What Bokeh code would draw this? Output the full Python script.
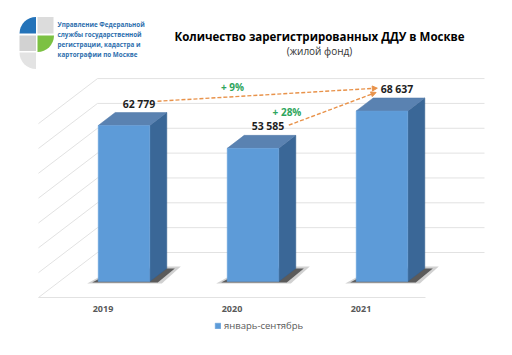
import numpy as np
from bokeh.plotting import figure
from bokeh.models import Range1d, Legend, LegendItem, Arrow, NormalHead
from bokeh.core.properties import value
from bokeh.embed import file_html
from bokeh.resources import INLINE

# ---------------- data ----------------
years = ["2019", "2020", "2021"]
counts = [62779, 53585, 68637]
grid_values = [0, 10000, 20000, 30000, 40000, 50000, 60000, 70000]
series_name = "январь-сентябрь"
title_text = "Количество зарегистрированных ДДУ в Москве"
subtitle_text = "(жилой фонд)"
org_lines = ["Управление Федеральной", "службы государственной",
             "регистрации, кадастра и", "картографии по Москве"]

# ---------------- layout ----------------
W, H = 504, 347
OFF = 0               # page offset of the canvas
PX_X = 129.0          # px per category step
PX_Y = 1 / 402.5      # px per unit of value
X0 = 123.5 - OFF      # canvas px of category 0 (bar front centre)
Y0 = 281.0 - OFF      # canvas px (from top) of value 0

def dxp(px):
    return px / PX_X

def dyp(px):
    return px / PX_Y

def pos(img_x, img_y):
    return ((img_x - OFF - X0) / PX_X, (Y0 - (img_y - OFF)) / PX_Y)

FONT = value("Open Sans")
p = figure(width=W, height=H, title=None,
           x_range=Range1d(-X0 / PX_X, (W - X0) / PX_X),
           y_range=Range1d(-(H - Y0) / PX_Y, Y0 / PX_Y),
           output_backend="svg", toolbar_location=None,
           x_axis_location=None, y_axis_location=None, min_border=0,
           outline_line_color=None, background_fill_color="white",
           border_fill_color="white")
p.grid.visible = False

n = len(years)
xs = np.arange(n, dtype=float)
BW = dxp(51.6)            # bar width in category units
left, right = -0.5, n - 0.5
BWDX, BWDY = dxp(38), dyp(29)     # back wall offset
FFDX, FFDY = dxp(-21), dyp(-16)   # front floor offset
BDX, BDY = dxp(17), dyp(13)       # bar depth

grid_col = "#e2e2e2"
# back wall grid lines
p.segment(x0=[left + BWDX] * len(grid_values), y0=[g + BWDY for g in grid_values],
          x1=[right + BWDX] * len(grid_values), y1=[g + BWDY for g in grid_values],
          line_color=grid_col, line_width=1)
# left wall diagonals
p.segment(x0=[left + FFDX] * len(grid_values), y0=[g + FFDY for g in grid_values],
          x1=[left + BWDX] * len(grid_values), y1=[g + BWDY for g in grid_values],
          line_color=grid_col, line_width=1)
# floor front edge
p.segment(x0=[left + FFDX], y0=[FFDY], x1=[right + FFDX], y1=[FFDY],
          line_color=grid_col, line_width=1)

# shadows
sh_out_x, sh_out_y, sh_in_x, sh_in_y = [], [], [], []
for x, v in zip(xs, counts):
    l = x - BW / 2
    r = x + BW / 2
    sh_out_x.append([l - dxp(11), r + dxp(12), r + dxp(31), l + dxp(20)])
    sh_out_y.append([dyp(-2), dyp(-2), dyp(15), dyp(15)])
    sh_in_x.append([l - dxp(6), r + dxp(8), r + dxp(25), l + dxp(20)])
    sh_in_y.append([dyp(-1), dyp(-1), dyp(13), dyp(13)])
p.patches(sh_out_x, sh_out_y, fill_color="#7a7a7a", fill_alpha=0.35, line_color=None)
p.patches(sh_in_x, sh_in_y, fill_color="#333333", fill_alpha=0.75, line_color=None)

# bars: side, top, front
side_x, side_y, top_x, top_y = [], [], [], []
for x, v in zip(xs, counts):
    l = x - BW / 2
    r = x + BW / 2
    side_x.append([r, r + BDX, r + BDX, r])
    side_y.append([0, BDY, v + BDY, v])
    top_x.append([l, l + BDX, r + BDX, r])
    top_y.append([v, v + BDY, v + BDY, v])
p.patches(side_x, side_y, fill_color="#3a6797", line_color="#345f8c", line_width=0.5)
p.patches(top_x, top_y, fill_color="#5a82b1", line_color="#5079a8", line_width=0.5)
front = p.quad(left=xs - BW / 2, right=xs + BW / 2, bottom=[0] * n, top=counts,
               fill_color="#5d9bd8", line_color="#6aa3dc", line_width=0.5)

# value labels
p.text(x=xs, y=counts, text=[f"{v:,}".replace(",", " ") for v in counts],
       x_offset=15, y_offset=-22, text_align="center", text_baseline="middle",
       text_font=FONT, text_font_style="bold", text_font_size="10.5px",
       text_color="#1e1e1e")

# year labels
p.text(x=xs + FFDX, y=[dyp(-27.7)] * n, text=years, text_align="center",
       text_baseline="middle", text_font=FONT, text_font_style="bold",
       text_font_size="9px", text_color="#595959")

# growth arrows
orange = "#e8924a"
arrows = [
    (0, 33.5, 24.3, 2, -4.7, 22.8),
    (1, 35.8, 23.2, 2, -5.9, 18.5),
]
for i0, sx, sy, i1, ex, ey in arrows:
    p.add_layout(Arrow(x_start=xs[i0] + dxp(sx), y_start=counts[i0] + dyp(sy),
                       x_end=xs[i1] + dxp(ex), y_end=counts[i1] + dyp(ey),
                       line_color=orange, line_width=1.4, line_dash="4 2",
                       end=NormalHead(size=5, fill_color=orange, line_color=orange)))

pct = [f"+ {round((counts[2] / counts[i] - 1) * 100)}%" for i in (0, 1)]
px_pos = [pos(232, 86.7), pos(286.5, 111.7)]
p.text(x=[q[0] for q in px_pos], y=[q[1] for q in px_pos], text=pct,
       text_align="center", text_baseline="middle", text_font=FONT,
       text_font_style="bold", text_font_size="10px", text_color="#2ea55c")

# titles
tx, ty = pos(319, 36)
p.text(x=[tx], y=[ty], text=[title_text], text_align="center", text_baseline="middle",
       text_font=FONT, text_font_style="bold", text_font_size="11.5px", text_color="#000000")
sx_, sy_ = pos(319, 50)
p.text(x=[sx_], y=[sy_], text=[subtitle_text], text_align="center", text_baseline="middle",
       text_font=FONT, text_font_size="10px", text_color="#333333")

# logo
def wedge(cx, cy, a0, a1, col):
    x, y = pos(cx, cy)
    p.wedge(x=[x], y=[y], radius=16.5, radius_units="screen",
            start_angle=a0, end_angle=a1, fill_color=col, line_color=None)

wedge(35.5, 33, np.pi / 2, np.pi, "#2473b9")
wedge(37, 35, 1.5 * np.pi, 2 * np.pi, "#7cc143")
wedge(35.5, 52, np.pi, 1.5 * np.pi, "#e3e3e3")
for (x0, y0, x1, y1, col) in [(37, 16.5, 53, 33, "#dcdcdc"), (19, 35, 35.5, 50.5, "#d2d2d2")]:
    a = pos(x0, y1)
    b = pos(x1, y0)
    p.quad(left=[a[0]], right=[b[0]], bottom=[a[1]], top=[b[1]], fill_color=col, line_color=None)

for k, line in enumerate(org_lines):
    lx, ly = pos(57, 24 + 10.1 * k)
    p.text(x=[lx], y=[ly], text=[line], text_align="left", text_baseline="middle",
           text_font=FONT, text_font_style="bold", text_font_size="6.3px", text_color="#2e6fae")

# legend
legend = Legend(items=[LegendItem(label=series_name, renderers=[front])],
                location=(214 - OFF, H - (332 - OFF)), orientation="horizontal",
                border_line_color=None, background_fill_alpha=0,
                padding=0, margin=0, spacing=0, glyph_width=7, glyph_height=7,
                label_standoff=3, label_height=12, label_text_font="Open Sans",
                label_text_font_size="9.5px", label_text_color="#595959")
p.add_layout(legend)

open("out.html", "w").write(file_html(p, INLINE))
